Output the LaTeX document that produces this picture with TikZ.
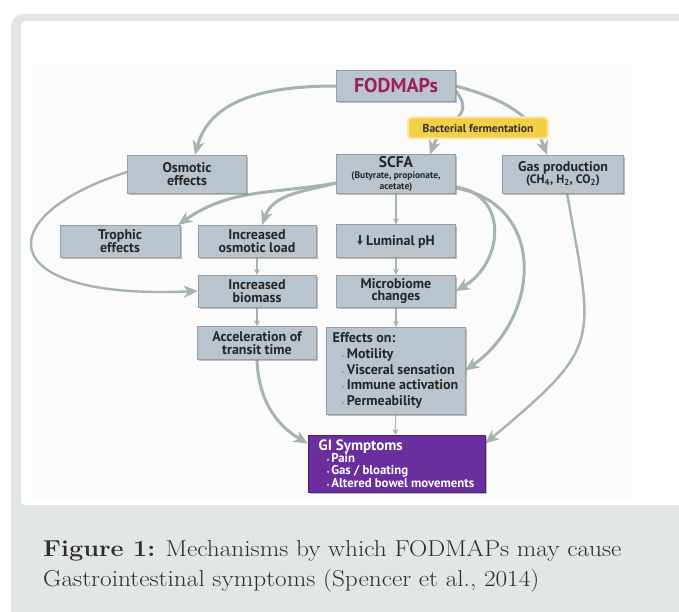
\documentclass[tikz,border=0pt]{standalone}
\usepackage{fontspec}
\newfontfamily\diagfont{PT Sans}
\newfontfamily\capfont{Latin Modern Roman}[FakeStretch=1.1]
\usepackage{xcolor}
\usepackage{tikz}
\usetikzlibrary{arrows.meta,shadows,backgrounds}

\definecolor{panelgray}{HTML}{E3E6E7}
\definecolor{boxblue}{HTML}{B8C5CF}
\definecolor{arrowgray}{HTML}{A5B4B0}
\definecolor{gipurple}{HTML}{6A2E9E}
\definecolor{fodred}{HTML}{9E1F5C}
\definecolor{fermyellow}{HTML}{F2CF45}
\definecolor{bulletblue}{HTML}{7FA3B3}
\definecolor{captiontext}{HTML}{2E2E2E}

\newcommand{\effbul}{{\color{bulletblue}\fontsize{7}{7}\selectfont\textbullet}\hspace{2pt}}
\newcommand{\gibul}{{\color{white!70!gipurple}\fontsize{7}{7}\selectfont\textbullet}\hspace{1.5pt}}
\newcommand{\phdown}{\tikz[baseline=-1pt]\draw[black!80, line width=1.8pt, -{Stealth[length=4.5pt, width=5.5pt]}] (0pt,9pt) -- (0pt,-1pt);}

\begin{document}
\lineskiplimit=-20pt
\begin{tikzpicture}[
    x=1pt, y=1pt,
    >=Stealth,
    box/.style={draw=boxblue!80!black, line width=0.3pt, fill=#1, minimum width=119pt, minimum height=33pt,
      inner sep=2pt, align=center, text=black!85,
      font=\diagfont\bfseries\fontsize{14}{12.5}\selectfont,
      drop shadow={shadow xshift=1.8pt, shadow yshift=-1.8pt, fill=black!55, opacity=0.45}},
    box/.default=boxblue,
    bigarr/.style={arrowgray, line width=3pt, -{Stealth[length=14pt, width=12pt, inset=4pt]}},
    smallarr/.style={arrowgray, line width=1.3pt, -{Stealth[length=6pt, width=6pt]}},
    captext/.style={anchor=base west, inner sep=0pt, text=captiontext, font=\capfont\fontsize{23}{28}\selectfont}
  ]
    \useasboundingbox (0,0) rectangle (679,-612);
    \begin{scope}[on background layer]
      \fill[panelgray, rounded corners=12pt] (11,-14) rectangle (720,-650);
      \fill[white, rounded corners=4pt] (21,-21) rectangle (700,-505);
      \fill[black!1.5] (32,-64) rectangle (632,-498);
    \end{scope}

    \node[box, minimum height=31pt, text=fodred, font=\diagfont\bfseries\fontsize{20}{20}\selectfont] (fodmaps) at (396,-86) {FODMAPs};
    \node[box, minimum height=38pt] (osmotic) at (187,-174) {Osmotic\\effects};
    \node[box, minimum height=38pt, font=\diagfont\bfseries\fontsize{9.5}{10.3}\selectfont] (scfa) at (396,-174)
      {{\fontsize{15.5}{15.5}\selectfont SCFA}\\[1pt](Butyrate, propionate,\\acetate)};
    \node[box, minimum width=121pt, minimum height=38pt] (gas) at (563,-174)
      {Gas production\\{\fontsize{12.3}{12}\selectfont (CH\textsubscript{4}, H\textsubscript{2}, CO\textsubscript{2})}};
    \node[box, minimum width=120pt, minimum height=32pt] (trophic) at (120,-241) {Trophic\\effects};
    \node[box, minimum width=118pt, minimum height=32pt] (osmload) at (257,-241) {Increased\\osmotic load};
    \node[box] (ph) at (396,-241) {\phdown\ Luminal pH};
    \node[box, minimum width=118pt, minimum height=32pt] (biomass) at (257,-291) {Increased\\biomass};
    \node[box, minimum height=32pt] (microbiome) at (396,-291) {Microbiome\\changes};
    \node[box] (transit) at (257,-343) {Acceleration of\\transit time};
    \node[box, minimum width=139pt, minimum height=87pt, align=left,
      font=\diagfont\bfseries\fontsize{14}{15.7}\selectfont] (effects) at (395.5,-370.5)
      {Effects on:\\\hspace*{9pt}\effbul Motility\\\hspace*{9pt}\effbul Visceral sensation\\
       \hspace*{9pt}\effbul Immune activation\\\hspace*{9pt}\effbul Permeability};
    \node[box=gipurple, draw=gipurple!70!black, text=white, minimum width=177pt, minimum height=57pt, align=left,
      font=\diagfont\bfseries\fontsize{12.8}{12.4}\selectfont] (gisym) at (396.5,-463.5)
      {{\fontsize{15}{15}\selectfont GI Symptoms}\\\hspace*{8pt}\gibul Pain\\\hspace*{8pt}\gibul Gas / bloating\\
       \hspace*{8pt}\gibul Altered bowel movements};
    \node[fill=fermyellow, rounded corners=3pt, inner sep=2pt, minimum width=138pt, minimum height=19pt,
      preaction={draw=fermyellow!45, line width=4pt}, text=black!80,
      font=\diagfont\bfseries\fontsize{11.5}{11}\selectfont] (ferm) at (478,-128) {Bacterial fermentation};

    \begin{scope}[on background layer]
      \draw[bigarr] (fodmaps.west) to[out=180,in=75] ([xshift=8pt]osmotic.north);
      \draw[bigarr] ([yshift=-5pt]fodmaps.east) to[out=-50,in=70,looseness=1.3] ([xshift=34pt]scfa.north);
      \draw[bigarr] (fodmaps.east) to[out=-15,in=110] ([xshift=-16pt]gas.north);
      \draw[bigarr, line width=2.4pt] ([yshift=2pt]osmotic.west) .. controls (-10,-215) and (-10,-300) .. (biomass.west);
      \draw[bigarr] ([yshift=-9pt]scfa.west) to[out=190,in=35] ([xshift=-2pt]trophic.north east);
      \draw[bigarr] ([yshift=-9pt]scfa.west) to[out=195,in=70] ([xshift=5pt]osmload.north);
      \draw[bigarr] ([yshift=-13pt]scfa.east) to[out=-8,in=30,looseness=1.35] (microbiome.east);
      \draw[bigarr] ([yshift=-14pt]scfa.east) to[out=-10,in=35,looseness=1.3] (effects.east);
      \draw[bigarr, line width=2.4pt] ([xshift=4pt]gas.south) to[out=-80,in=40,looseness=1.5] ([yshift=20pt]gisym.east);
      \draw[bigarr] (transit.south) to[out=-88,in=150] ([yshift=20pt]gisym.west);
      \draw[smallarr] (scfa.south) -- (ph.north);
      \draw[smallarr] (osmload.south) -- (biomass.north);
      \draw[smallarr] (biomass.south) -- (transit.north);
      \draw[smallarr] (ph.south) -- (microbiome.north);
      \draw[smallarr] (microbiome.south) -- (microbiome.south |- effects.north);
      \draw[smallarr] (effects.south) -- (effects.south |- gisym.north);
    \end{scope}

    \node[captext] (cap1) at (43,-556) {\textbf{Figure 1:} Mechanisms by which FODMAPs may cause};
    \node[captext] (cap2) at (43,-586) {Gastrointestinal symptoms (Spencer et al., 2014)};
  \end{tikzpicture}
\end{document}
